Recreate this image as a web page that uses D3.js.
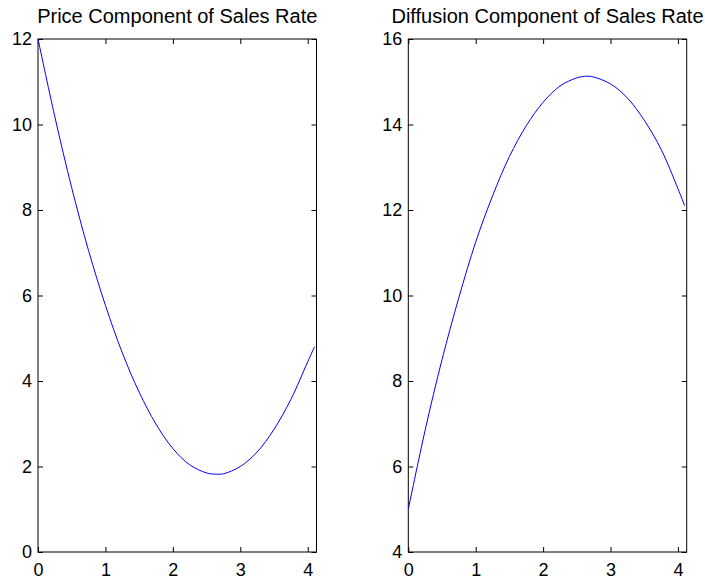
<!DOCTYPE html>
<html><head><meta charset="utf-8">
<script src="https://cdn.jsdelivr.net/npm/d3@7"></script>
<style>
body{margin:0;background:#fff}
text{font-family:Arial,"Liberation Sans",sans-serif;}
</style>
</head><body>
<svg id="c" width="705" height="579"></svg>
<script>
const xValues = [0, 0.25, 0.5, 0.75, 1.0, 1.25, 1.5, 1.75, 2.0, 2.25, 2.5, 2.65, 2.75, 3.0, 3.25, 3.5, 3.75, 4.0, 4.1];
const priceValues = [12.0, 10.18, 8.52, 7.05, 5.77, 4.66, 3.74, 2.99, 2.42, 2.04, 1.85, 1.82, 1.83, 2.0, 2.34, 2.87, 3.57, 4.45, 4.8];
const diffusionValues = [5.0, 6.85, 8.5, 9.95, 11.25, 12.33, 13.25, 13.97, 14.52, 14.9, 15.09, 15.13, 15.11, 14.95, 14.62, 14.1, 13.42, 12.5, 12.1];
const xTicks = [0, 1, 2, 3, 4];
const priceTicks = [0, 2, 4, 6, 8, 10, 12];
const diffusionTicks = [4, 6, 8, 10, 12, 14, 16];
const titles = ["Price Component of Sales Rate", "Diffusion Component of Sales Rate"];

const svg = d3.select("#c");
svg.append("rect").attr("width", 705).attr("height", 579).attr("fill", "#fff");

const panels = [
  {left: 38, right: 316.5, title: titles[0], ys: priceValues, ydom: [0, 12], yt: priceTicks},
  {left: 408.3, right: 686.7, title: titles[1], ys: diffusionValues, ydom: [4, 16], yt: diffusionTicks}
];
const plotTop = 39, plotBottom = 552;
const fs = 18;

panels.forEach(p => {
  const x = d3.scaleLinear().domain([0, 4.13]).range([p.left, p.right]);
  const y = d3.scaleLinear().domain(p.ydom).range([plotBottom, plotTop]);
  const g = svg.append("g");

  const style = sel => {
    sel.select(".domain").remove();
    sel.selectAll(".tick line").attr("stroke", "#000").attr("stroke-width", 1);
    sel.selectAll(".tick text").attr("fill", "#000").style("font-size", fs + "px")
      .style("font-family", "Arial, 'Liberation Sans', sans-serif");
  };

  g.append("g").attr("transform", `translate(0,${plotBottom})`)
    .call(d3.axisBottom(x).tickValues(xTicks).tickFormat(d3.format("d")).tickSize(-5).tickPadding(11))
    .call(style);
  g.append("g").attr("transform", `translate(0,${plotTop})`)
    .call(d3.axisTop(x).tickValues(xTicks).tickFormat("").tickSize(-5))
    .call(style);
  g.append("g").attr("transform", `translate(${p.left},0)`)
    .call(d3.axisLeft(y).tickValues(p.yt).tickFormat(d3.format("d")).tickSize(-5).tickPadding(6))
    .call(style);
  g.append("g").attr("transform", `translate(${p.right},0)`)
    .call(d3.axisRight(y).tickValues(p.yt).tickFormat("").tickSize(-5))
    .call(style);

  g.append("rect").attr("x", p.left).attr("y", plotTop)
    .attr("width", p.right - p.left).attr("height", plotBottom - plotTop)
    .attr("fill", "none").attr("stroke", "#000").attr("stroke-width", 1);

  const line = d3.line().x((d, i) => x(xValues[i])).y(d => y(d)).curve(d3.curveCatmullRom.alpha(0.5));
  g.append("path").datum(p.ys).attr("d", line)
    .attr("fill", "none").attr("stroke", "#0000ff").attr("stroke-width", 1);

  g.append("text").attr("x", (p.left + p.right) / 2).attr("y", 22.5)
    .attr("text-anchor", "middle").style("font-size", "20px").attr("fill", "#000")
    .text(p.title);
});
</script>
</body></html>
